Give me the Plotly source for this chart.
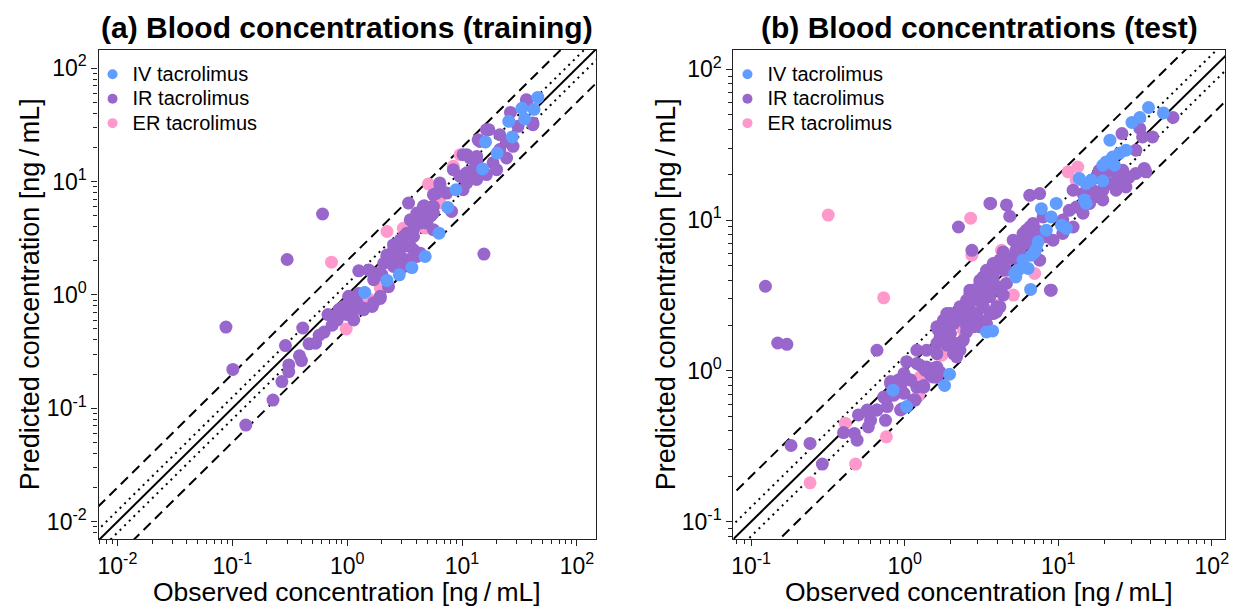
import plotly.graph_objects as go

# ---------------- data: panel (a) training ----------------
a_iv_obs = [1.42, 2.22, 2.84, 3.66, 4.77, 6.3, 7.5, 8.85, 15.1, 20.2, 16.0, 27.4, 25.5, 35.1, 33.2, 42.3, 45.7]
a_iv_pred = [1.05, 1.34, 1.50, 1.74, 2.18, 3.5, 5.9, 8.45, 12.9, 17.8, 22.3, 24.7, 33.9, 35.6, 44.1, 43.2, 55.1]

a_er_obs = [0.73, 0.98, 1.16, 1.54, 1.94, 2.22, 3.08, 4.77, 6.43, 5.1, 8.4, 9.6]
a_er_pred = [1.94, 0.50, 0.71, 0.92, 1.15, 3.62, 3.86, 3.88, 6.49, 9.5, 13.6, 17.2]

a_ir_obs = [0.088, 0.101, 0.131, 0.226, 0.27, 0.31, 0.31, 0.29, 0.384, 0.40, 0.41, 0.465, 0.53, 0.57, 0.63,
            0.68, 0.74, 0.82, 0.85, 0.93, 1.0, 1.1, 1.03, 1.14, 1.26, 1.22, 1.26, 1.54, 1.39, 1.65, 1.94,
            0.61, 0.30, 15.5, 3.42,
            4.68, 5.63, 4.32, 3.9, 4.93, 5.63, 3.31, 3.78, 2.9, 2.53, 3.1, 3.78, 4.32, 2.22, 2.71, 2.45,
            3.31, 2.08, 2.9, 2.53, 2.9, 1.82, 1.70, 2.01, 2.29, 1.94, 1.70, 1.39, 1.22, 1.10, 0.93, 0.85,
            1.0, 1.14,
            36.7, 41.4, 26.4, 30.7, 27.8, 24.4, 21.3, 17.1, 14.3, 21.3, 24.4, 18.6, 20.0, 10.2, 11.7, 13.4,
            12.5, 16.3, 11.0, 9.6, 8.4, 11.0, 13.4, 10.2, 6.43, 6.0, 7.36, 8.1, 5.63, 4.61, 5.27, 4.04,
            4.32, 3.54, 3.78, 3.1, 2.9, 3.54, 2.53, 2.22, 4.04, 2.9,
            36.3, 41.4, 16.3, 13.8, 11.0, 13.4, 6.4, 5.63]
a_ir_pred = [0.52, 0.22, 0.071, 0.118, 0.172, 0.241, 0.21, 0.357, 0.29, 0.263, 0.51, 0.37, 0.375, 0.44, 0.47,
             0.67, 0.54, 0.60, 0.74, 0.69, 0.79, 0.67, 0.97, 0.90, 1.03, 0.85, 1.63, 1.66, 0.74, 0.79, 0.93,
             5.16, 2.05, 2.29, 6.45,
             6.1, 5.26, 4.91, 4.15, 4.29, 3.75, 3.5, 3.27, 3.06, 2.76, 2.67, 2.49, 2.33, 2.25, 2.18, 1.97,
             2.04, 1.9, 1.84, 1.78, 1.66, 1.55, 1.36, 1.50, 1.18, 0.97, 0.85, 0.76, 0.82, 0.69, 0.79, 0.74,
             0.67, 0.60,
             51.9, 32.8, 40.6, 30.6, 20.4, 22.5, 25.8, 28.6, 22.5, 19.1, 16.1, 14.6, 12.7, 17.2, 16.1, 15.5,
             12.7, 11.5, 11.9, 11.1, 12.7, 9.7, 10.4, 8.45, 9.35, 7.9, 7.9, 5.44, 6.02, 6.02, 4.91, 5.26,
             4.29, 4.59, 3.75, 3.27, 2.86, 2.67, 2.49, 2.18, 2.18, 2.18,
             52.5, 31.6, 28.6, 23.3, 17.2, 16.6, 9.7, 7.64]

# ---------------- data: panel (b) test ----------------
b_iv_obs = [38.7, 48.4, 34.0, 30.2, 21.7, 27.6, 25.0, 22.6, 20.5, 19.5, 23.2, 13.7, 15.2, 16.4, 19.5, 14.8, 15.2,
            7.76, 9.7, 9.0, 10.5, 11.3, 8.36, 7.39, 7.2, 6.68, 5.9, 6.36, 5.21, 5.48, 6.61, 5.29, 7.02,
            3.41, 3.74, 1.96, 1.82, 1.03, 0.84]
b_iv_pred = [55.8, 51.4, 47.9, 44.4, 33.9, 29.1, 27.7, 26.2, 24.3, 23.1, 23.1, 18.9, 17.5, 18.4, 18.2, 13.6, 12.9,
             11.9, 12.9, 10.5, 9.25, 8.8, 8.57, 7.17, 6.47, 5.85, 5.42, 4.78, 4.43, 4.65, 3.47, 4.2, 6.15,
             1.81, 1.84, 0.95, 0.80, 0.58, 0.745]

b_er_obs = [0.318, 0.73, 0.242, 0.479, 0.76, 0.41, 1.23, 1.26, 1.75, 2.41, 2.35, 2.29, 2.69, 2.74, 4.27,
            4.07, 5.1, 7.02, 13.4, 11.6, 13.1]
b_er_pred = [10.8, 3.05, 0.181, 0.241, 0.365, 0.45, 0.69, 0.91, 1.27, 1.86, 1.56, 1.52, 10.3, 5.85, 6.31,
             2.73, 3.18, 4.43, 22.5, 20.9, 18.4]

b_ir_obs = [0.124, 0.149, 0.171, 0.66, 0.182, 0.242, 0.291, 0.40, 0.47, 0.49, 0.50, 0.58, 0.66, 0.60, 0.58, 0.75,
            0.81, 0.91, 0.99, 1.09, 1.2, 1.33, 0.77, 0.85, 0.99, 1.17, 0.96,
            1.03, 1.2, 1.39, 1.26, 1.36, 1.54, 1.62, 1.47, 1.70,
            1.66, 1.79, 1.98, 1.70, 1.88, 2.08, 2.29, 2.18, 2.53, 2.66, 3.09, 2.94, 3.25, 3.77, 4.17, 2.66,
            4.6, 8.9,
            3.63, 4.6, 4.83, 2.24, 2.74, 6.52,
            6.2, 5.6, 6.5, 5.3, 4.38, 4.83, 4.17, 3.77, 3.41, 3.09, 3.59, 4.07, 4.38, 3.77, 2.66, 2.94, 2.53,
            2.41, 3.25, 3.59, 3.96, 3.09, 2.8, 2.18, 1.98, 1.79, 2.08, 1.62, 1.98, 1.70, 2.18, 1.88, 1.62,
            2.08, 2.53,
            0.57, 0.66, 0.77, 0.73, 0.85, 0.94, 0.81, 0.99, 1.09, 1.33, 1.2, 1.39, 1.62, 1.54, 1.62, 1.79,
            1.98, 2.18, 2.41, 1.70, 1.88, 2.18, 2.53, 2.29, 2.66, 2.8, 3.09, 3.25, 3.41, 3.77, 4.17, 4.38,
            3.77, 3.41, 3.09, 3.59, 3.25, 3.96, 2.94, 3.41, 2.8, 2.53, 0.94, 1.14,
            55.9, 41.1, 35.4, 34.0, 26.0, 32.0,
            36.3, 32.0, 29.0, 26.3, 23.8, 20.5, 18.5, 17.6, 21.5, 25.0, 19.5, 16.8, 14.5, 12.5, 17.6, 19.5,
            16.0, 13.1, 14.5, 11.8, 10.7, 12.5, 10.7, 9.25, 8.36, 7.2, 6.52, 5.9, 6.2, 5.61, 5.35, 7.57,
            7.96, 6.86, 5.09, 4.38, 3.59, 4.17, 4.6, 3.77, 3.25, 2.94, 2.66, 9.0, 7.57, 5.61,
            27.6, 23.8, 37.2]
b_ir_pred = [3.64, 1.53, 1.50, 1.37, 0.32, 0.33, 0.241, 0.39, 0.385, 0.347, 0.51, 0.53, 0.55, 0.47, 0.425, 0.47,
             0.82, 0.87, 0.91, 0.87, 0.78, 0.78, 0.67, 0.69, 0.71, 0.64, 0.56,
             1.15, 1.37, 1.37, 1.09, 1.01, 1.04, 0.91, 0.94, 0.98,
             1.86, 2.17, 2.40, 1.60, 1.52, 1.44, 1.37, 1.24, 2.06, 2.53, 1.96, 2.94, 3.26, 2.40, 2.66, 2.94,
             3.8, 3.43,
             12.9, 12.6, 10.6, 9.0, 6.3, 14.6,
             8.57, 7.17, 7.55, 6.31, 6.15, 5.56, 5.42, 4.65, 4.2, 3.99, 3.99, 3.61, 3.18, 3.43, 3.43, 3.1, 2.94,
             2.66, 2.66, 2.4, 2.46, 2.17, 2.28, 2.4, 2.28, 2.06, 2.06, 1.96, 1.77, 1.68, 1.52, 1.48, 1.52,
             1.30, 1.81,
             0.55, 0.55, 0.58, 0.67, 0.71, 0.78, 0.85, 0.96, 0.87, 0.80, 1.12, 1.06, 1.06, 0.91, 1.30, 1.60,
             1.77, 1.37, 1.60, 1.96, 2.40, 2.17, 2.28, 2.66, 2.94, 3.43, 3.8, 4.2, 4.65, 5.15, 5.42, 4.65,
             3.8, 3.43, 3.1, 3.1, 2.66, 2.66, 2.4, 2.06, 1.96, 1.96, 0.55, 0.64,
             47.9, 35.6, 35.6, 40.5, 37.5, 29.1,
             22.0, 20.4, 19.3, 21.4, 20.4, 20.9, 21.4, 19.3, 17.5, 17.9, 15.8, 15.8, 15.0, 15.8, 14.3, 13.6,
             12.9, 12.2, 11.1, 11.6, 10.0, 9.0, 8.15, 7.36, 7.74, 8.57, 9.0, 8.15, 7.0, 6.31, 5.7, 15.0,
             10.5, 9.5, 7.36, 6.0, 12.9, 5.15, 4.65, 4.2, 3.89, 3.43, 3.26, 3.43, 5.42, 4.9,
             16.6, 15.8, 20.9]

group_names = ["IV tacrolimus", "IR tacrolimus", "ER tacrolimus"]
group_colors = ["#619CFF", "#9966CC", "#FF99CC"]

titles = ["(a) Blood concentrations (training)", "(b) Blood concentrations (test)"]
x_title = "Observed concentration [ng\u2009/\u2009mL]"
y_title = "Predicted concentration [ng\u2009/\u2009mL]"

# axis ranges (log10)
a_range_x = [-2.165, 2.167]
a_range_y = [-2.153, 2.159]
b_range_x = [-1.115, 2.086]
b_range_y = [-1.115, 2.128]
a_decades = [-2, -1, 0, 1, 2]
b_decades = [-1, 0, 1, 2]

# reference lines: fold, dash
ref_folds = [1.0, 1.25, 0.8, 2.0, 0.5]
ref_dash = ["solid", "2px,4.5px", "2px,4.5px", "10px,6px", "10px,6px"]

FONT = "Liberation Sans, Arial, sans-serif"

fig = go.Figure()

panels = [
    dict(xa="x", ya="y", legend="legend",
         data={"IV tacrolimus": (a_iv_obs, a_iv_pred), "IR tacrolimus": (a_ir_obs, a_ir_pred),
               "ER tacrolimus": (a_er_obs, a_er_pred)},
         rx=a_range_x, ry=a_range_y),
    dict(xa="x2", ya="y2", legend="legend2",
         data={"IV tacrolimus": (b_iv_obs, b_iv_pred), "IR tacrolimus": (b_ir_obs, b_ir_pred),
               "ER tacrolimus": (b_er_obs, b_er_pred)},
         rx=b_range_x, ry=b_range_y),
]

for p in panels:
    lo = 10 ** (min(p["rx"][0], p["ry"][0]) - 0.5)
    hi = 10 ** (max(p["rx"][1], p["ry"][1]) + 0.5)
    for f, d in zip(ref_folds, ref_dash):
        fig.add_trace(go.Scatter(x=[lo, hi], y=[lo * f, hi * f], mode="lines",
                                 line=dict(color="black", width=2, dash=d),
                                 showlegend=False, hoverinfo="skip",
                                 xaxis=p["xa"], yaxis=p["ya"]))
    # draw order: ER, IR, IV (IV on top)
    for name in ["ER tacrolimus", "IR tacrolimus", "IV tacrolimus"]:
        col = group_colors[group_names.index(name)]
        ox, py = p["data"][name]
        fig.add_trace(go.Scatter(x=ox, y=py, mode="markers", name=name,
                                 marker=dict(size=13, color=col, line=dict(width=0)),
                                 showlegend=False, xaxis=p["xa"], yaxis=p["ya"]))
    # legend entries (text drawn larger than the row height font)
    for name, col in zip(group_names, group_colors):
        fig.add_trace(go.Scatter(x=[None], y=[None], mode="markers",
                                 name='<span style="font-size:20px">%s</span>' % name,
                                 marker=dict(size=10, color=col, line=dict(width=0)),
                                 legend=p["legend"], xaxis=p["xa"], yaxis=p["ya"]))


def minor_vals(decades):
    vals = []
    for d in range(decades[0] - 1, decades[-1] + 1):
        for m in range(2, 10):
            vals.append(m * 10 ** d)
    return vals


def axis_common(rng, decades):
    return dict(
        type="log", range=rng, showgrid=False, zeroline=False,
        showline=True, linecolor="#222222", linewidth=1.3, mirror=True,
        ticks="outside", ticklen=6, tickwidth=1.2, tickcolor="#222222",
        tickmode="array", tickvals=[10 ** d for d in decades],
        ticktext=["10<sup>%d</sup>" % d for d in decades],
        tickfont=dict(family=FONT, size=23, color="black"),
        minor=dict(ticks="outside", ticklen=4, tickwidth=1, tickcolor="#222222",
                   tickmode="array", tickvals=minor_vals(decades), showgrid=False),
    )


W, H = 1236, 608
ya_dom = [1 - 539 / H, 1 - 50 / H]
xa_dom = [97 / W, 597 / W]
xb_dom = [735 / W, 1229 / W]

legend_style = dict(xanchor="left", yanchor="top", bgcolor="rgba(0,0,0,0)",
                    font=dict(family=FONT, size=16.5, color="black"), tracegroupgap=0)

fig.update_layout(
    width=W, height=H, margin=dict(l=0, r=0, t=0, b=0),
    paper_bgcolor="white", plot_bgcolor="white",
    font=dict(family=FONT, color="black"),
    xaxis=dict(domain=xa_dom, anchor="y", **axis_common(a_range_x, a_decades)),
    yaxis=dict(domain=ya_dom, anchor="x", **axis_common(a_range_y, a_decades)),
    xaxis2=dict(domain=xb_dom, anchor="y2", **axis_common(b_range_x, b_decades)),
    yaxis2=dict(domain=ya_dom, anchor="x2", **axis_common(b_range_y, b_decades)),
    legend=dict(x=91 / W, y=1 - 57 / H, **legend_style),
    legend2=dict(x=729 / W, y=1 - 57 / H, **legend_style),
    showlegend=True,
)

ann = []
for i, (dom, title) in enumerate([(xa_dom, titles[0]), (xb_dom, titles[1])]):
    cx = (dom[0] + dom[1]) / 2
    ann.append(dict(text="<b>%s</b>" % title, x=cx, y=1 - 27 / H, xref="paper", yref="paper",
                    showarrow=False, xanchor="center", yanchor="middle",
                    font=dict(family=FONT, size=30, color="black")))
    ann.append(dict(text=x_title, x=cx, y=1 - 592 / H, xref="paper", yref="paper",
                    showarrow=False, xanchor="center", yanchor="middle",
                    font=dict(family=FONT, size=26.5, color="black")))
ann.append(dict(text=y_title, x=28 / W, y=(ya_dom[0] + ya_dom[1]) / 2, xref="paper", yref="paper",
                showarrow=False, textangle=-90, xanchor="center", yanchor="middle",
                font=dict(family=FONT, size=27, color="black")))
ann.append(dict(text=y_title, x=667 / W, y=(ya_dom[0] + ya_dom[1]) / 2, xref="paper", yref="paper",
                showarrow=False, textangle=-90, xanchor="center", yanchor="middle",
                font=dict(family=FONT, size=27, color="black")))
fig.update_layout(annotations=ann)

fig.write_html("out.html")
